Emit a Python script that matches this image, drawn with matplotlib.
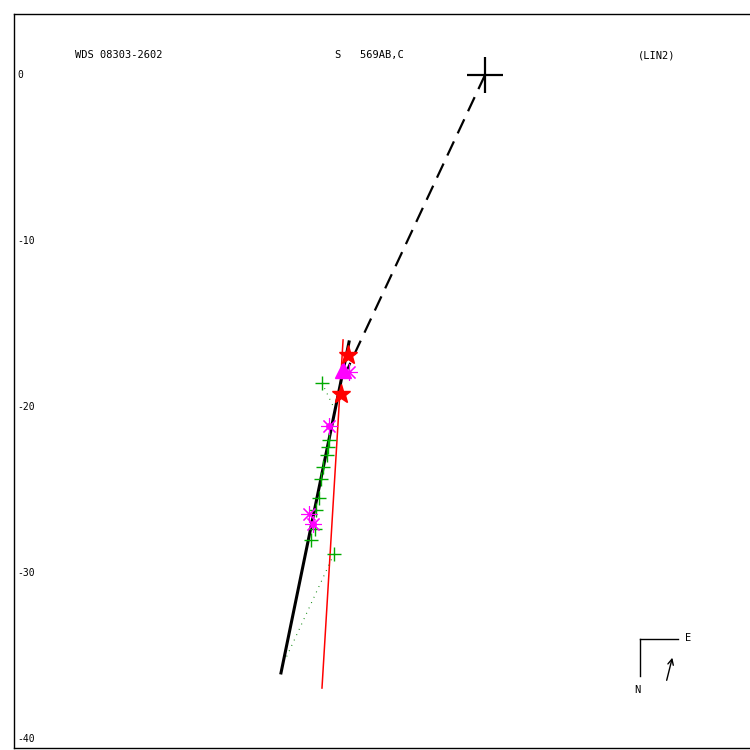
import matplotlib
matplotlib.use("Agg")
import matplotlib.pyplot as plt
from matplotlib.lines import Line2D

# --- data (plot units) ---
y_ticks = [0, -10, -20, -30, -40]

primary = (0.0, 0.0)

fit_x = [-8.19, -12.29]           # solid black linear fit
fit_y = [-16.08, -36.02]
closest_x = [0.0, -8.37]          # dashed line primary -> fit
closest_y = [0.0, -17.89]
red_x = [-8.55, -9.82]            # red reference line
red_y = [-15.96, -36.93]

star_x = [-8.25, -8.67]
star_y = [-16.87, -19.22]

tri_x = [-8.55]
tri_y = [-17.77]

ast_x = [-8.19, -9.40, -10.60, -10.36]
ast_y = [-17.89, -21.14, -26.45, -27.05]
dot_x = [-9.40, -10.36]
dot_y = [-21.14, -27.05]

plus_x = [-9.82, -9.40, -9.46, -9.52, -9.76, -9.88, -10.00, -10.18, -10.24, -10.48, -9.10]
plus_y = [-18.55, -21.99, -22.41, -22.89, -23.61, -24.34, -25.48, -26.20, -27.35, -28.01, -28.86]

# O-C residual segments (observation -> predicted)
oc = [((-9.82, -18.55), (-9.04, -20.18)),
      ((-9.10, -28.86), (-11.99, -35.12))]

title_left = "WDS 08303-2602"
title_mid = "S   569AB,C"
title_right = "(LIN2)"

fig = plt.figure(figsize=(7.5, 7.5), dpi=100)
W = 750.0
ax = fig.add_axes([14 / W, 2 / W, 737 / W, 734 / W])
s = 16.6
ax.set_xlim((14 - 485) / s, (751 - 485) / s)
ax.set_ylim(-(748 - 75) / s, -(14 - 75) / s)
ax.set_xticks([])
ax.set_yticks([])
for sp in ax.spines.values():
    sp.set_linewidth(1.0)
    sp.set_color("black")

mono = "DejaVu Sans Mono"
for t in y_ticks:
    ax.text(0.004, t, str(t), transform=ax.get_yaxis_transform(),
            ha="left", va="center", fontsize=7, family=mono)

# lines
ax.plot(red_x, red_y, color="red", lw=1.1, zorder=2)
ax.plot(fit_x, fit_y, color="black", lw=2.2, zorder=3)
ax.plot(closest_x, closest_y, color="black", lw=1.6,
        dashes=(7, 4), zorder=3)
for (x0, y0), (x1, y1) in oc:
    ax.plot([x0, x1], [y0, y1], color="green", lw=0.8,
            linestyle=(0, (0.8, 4.5)), zorder=2)

# markers
ax.plot(plus_x, plus_y, ls="none", marker="+", color="#00aa00",
        ms=10, mew=1.0, zorder=4)
ax.plot(ast_x, ast_y, ls="none", marker=(8, 2, 0), color="magenta",
        ms=12, mew=0.8, zorder=5)
ax.plot(dot_x, dot_y, ls="none", marker="o", color="magenta",
        ms=4, zorder=5)
ax.plot(tri_x, tri_y, ls="none", marker="^", color="magenta",
        ms=12, zorder=5)
ax.plot(star_x, star_y, ls="none", marker="*", color="red",
        ms=14, zorder=6)
ax.plot([primary[0]], [primary[1]], marker="+", color="black",
        ms=26, mew=1.6, zorder=6)

# header texts
fig.text(75 / W, 1 - 55 / W, title_left, ha="left", va="center",
         fontsize=7.5, family=mono)
fig.text(335 / W, 1 - 55 / W, title_mid, ha="left", va="center",
         fontsize=7.5, family=mono)
fig.text(638 / W, 1 - 55 / W, title_right, ha="left", va="center",
         fontsize=7.5, family=mono)

# compass
def fp(px, py):
    return px / W, 1 - py / W

for a, b in [((640, 639), (640, 676)), ((640, 639), (678, 639))]:
    (x0, y0), (x1, y1) = fp(*a), fp(*b)
    fig.add_artist(Line2D([x0, x1], [y0, y1], color="black", lw=1.0))
fig.text(*fp(688, 638), "E", ha="center", va="center", fontsize=7.5, family=mono)
fig.text(*fp(637, 690), "N", ha="center", va="center", fontsize=7.5, family=mono)
ax.annotate("", xy=fp(673, 655), xytext=fp(666, 683), xycoords="figure fraction",
            textcoords="figure fraction",
            arrowprops=dict(arrowstyle="->", color="black", lw=1.0))

fig.savefig("out.png", dpi=100)
